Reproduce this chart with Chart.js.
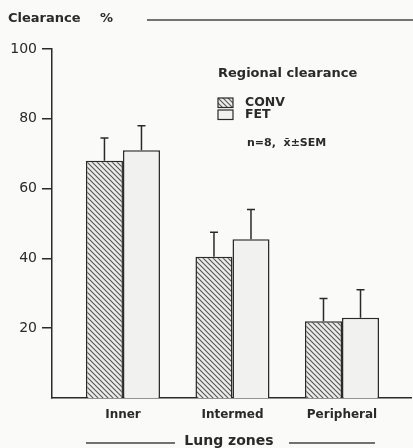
<!DOCTYPE html>
<html>
<head>
<meta charset="utf-8">
<script src="https://cdn.jsdelivr.net/npm/chart.js@4"></script>
<style>
  html, body { margin: 0; background: #fafaf8; }
  #c { display: block; }
</style>
</head>
<body>
<canvas id="c" width="413" height="448"></canvas>
<script>
// === DATA ===
const zones = ["Inner", "Intermed", "Peripheral"];
const convMean = [68, 40.5, 22];
const convSem = [6.5, 7, 6.5];
const fetMean = [71, 45.5, 23];
const fetSem = [7, 8.5, 8];
const yTicks = [20, 40, 60, 80, 100];

const FONT = "'DejaVu Sans', 'Liberation Sans', sans-serif";
const INK = "#2a2a2a";

// hatched fill for CONV, pale fill for FET
function hatch() {
  const c = document.createElement("canvas");
  c.width = 5; c.height = 5;
  const g = c.getContext("2d");
  g.fillStyle = "#ececea";
  g.fillRect(0, 0, 5, 5);
  g.strokeStyle = "#555";
  g.lineWidth = 1.1;
  g.beginPath();
  g.moveTo(-1, -1); g.lineTo(6, 6);
  g.moveTo(-1, 4); g.lineTo(1, 6);
  g.moveTo(4, -1); g.lineTo(6, 1);
  g.stroke();
  return g.createPattern(c, "repeat");
}
const convFill = hatch();
const fetFill = "#f1f1ef";

// === PLUGINS ===
const errorBars = {
  id: "errorBars",
  afterDatasetsDraw(chart) {
    const ctx = chart.ctx, ys = chart.scales.y;
    [convSem, fetSem].forEach((sem, di) => {
      const meta = chart.getDatasetMeta(di);
      meta.data.forEach((bar, i) => {
        const top = ys.getPixelForValue(chart.data.datasets[di].data[i].y + sem[i]);
        ctx.save();
        ctx.strokeStyle = INK; ctx.lineWidth = 1.5;
        ctx.beginPath();
        ctx.moveTo(bar.x, bar.y); ctx.lineTo(bar.x, top);
        ctx.moveTo(bar.x - 4, top); ctx.lineTo(bar.x + 4, top);
        ctx.stroke();
        ctx.restore();
      });
    });
  }
};

const decor = {
  id: "decor",
  afterDraw(chart) {
    const ctx = chart.ctx;
    ctx.save();
    ctx.fillStyle = INK; ctx.strokeStyle = "#444"; ctx.lineWidth = 1.3;
    ctx.textBaseline = "middle";
    // axis title top
    ctx.font = "bold 13px " + FONT;
    ctx.fillText("Clearance", 8, 19);
    ctx.fillText("%", 100, 19);
    ctx.beginPath(); ctx.moveTo(147, 20); ctx.lineTo(413, 20); ctx.stroke();
    // axis title bottom
    ctx.textAlign = "center";
    ctx.font = "bold 14px " + FONT;
    ctx.fillText("Lung zones", 229, 441);
    ctx.beginPath();
    ctx.moveTo(86, 443); ctx.lineTo(175, 443);
    ctx.moveTo(289, 443); ctx.lineTo(375, 443);
    ctx.stroke();
    // legend
    ctx.textAlign = "left";
    ctx.font = "bold 13px " + FONT;
    ctx.fillText("Regional clearance", 218, 74);
    const sw = [[convFill, "CONV", 98], [fetFill, "FET", 110]];
    ctx.font = "bold 12.5px " + FONT;
    sw.forEach(([fill, label, y]) => {
      ctx.fillStyle = fill; ctx.fillRect(218, y, 15, 9.5);
      ctx.strokeStyle = INK; ctx.lineWidth = 1.2; ctx.strokeRect(218, y, 15, 9.5);
      ctx.fillStyle = INK; ctx.fillText(label, 245, y + 5);
    });
    ctx.font = "bold 11px " + FONT;
    ctx.fillText("n=8,  x\u0304\u00b1SEM", 247, 143);
    ctx.restore();
  }
};

// === CHART ===
new Chart(document.getElementById("c"), {
  type: "bar",
  data: {
    datasets: [
      { label: "CONV", data: convMean.map((v, i) => ({ x: i + 1, y: v })),
        backgroundColor: convFill, borderColor: INK, borderWidth: 1.5 },
      { label: "FET", data: fetMean.map((v, i) => ({ x: i + 1, y: v })),
        backgroundColor: fetFill, borderColor: INK, borderWidth: 1.5 }
    ]
  },
  options: {
    responsive: false,
    animation: false,
    layout: { padding: { top: 49, left: 0, right: 2, bottom: 0 } },
    categoryPercentage: 0.676,
    barPercentage: 1,
    plugins: { legend: { display: false }, tooltip: { enabled: false } },
    scales: {
      x: {
        type: "linear", min: 0.352, max: 3.63, offset: false,
        afterBuildTicks: s => { s.ticks = zones.map((z, i) => ({ value: i + 1 })); },
        afterFit: s => { s.height = 50; },
        border: { color: INK, width: 1.5 },
        grid: { display: false, drawTicks: false },
        ticks: { color: INK, font: { size: 12, weight: "bold", family: FONT }, padding: 10,
          callback: v => zones[v - 1] }
      },
      y: {
        min: 0, max: 100,
        afterBuildTicks: s => { s.ticks = yTicks.map(v => ({ value: v })); },
        afterFit: s => { s.width = 52; },
        border: { color: INK, width: 1.5 },
        grid: { drawOnChartArea: false, tickLength: 10, color: INK, lineWidth: 1.5 },
        ticks: { color: INK, font: { size: 14, family: FONT }, padding: 5 }
      }
    }
  },
  plugins: [errorBars, decor]
});
</script>
</body>
</html>
